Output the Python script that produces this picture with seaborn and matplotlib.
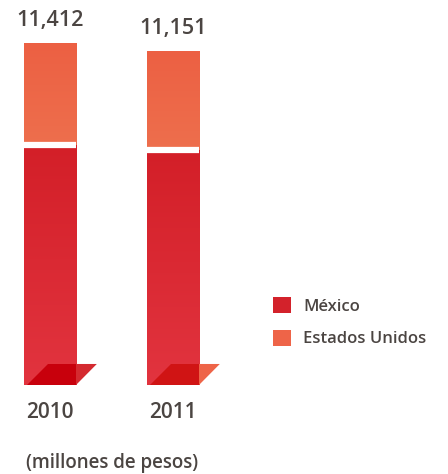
import numpy as np
import pandas as pd
import seaborn as sns
import matplotlib.pyplot as plt
from matplotlib.patches import Polygon, Patch
from matplotlib.colors import LinearSegmentedColormap

# Data (millones de pesos)
years = ['2010', '2011']
mexico = [8010, 7830]
usa = [3402, 3321]
totals = [11412, 11151]
total_labels = ['11,412', '11,151']
series_names = ['México', 'Estados Unidos']

red = '#d3222b'
orange = '#ee6448'
text_col = '#4b4542'

sns.set_theme(style='white')
plt.rcParams['font.family'] = ['Open Sans', 'DejaVu Sans']

fig = plt.figure(figsize=(4.48, 4.74), dpi=100)
ax = fig.add_axes([0, 89 / 474, 1, 385 / 474])

df = pd.DataFrame({'year': years, 'total': totals, 'mexico': mexico, 'usa': usa})
bar_w = 0.423
sns.barplot(data=df, x='year', y='total', color=orange, width=bar_w,
            saturation=1, ax=ax)
sns.barplot(data=df, x='year', y='mexico', color=red, width=bar_w,
            saturation=1, ax=ax)

xlim = (-0.4065, 3.236)
ylim = (0, 12847)

# vertical gradients on the bars
cm_orange = LinearSegmentedColormap.from_list('o', ['#f39264', '#ec6043'])
cm_red = LinearSegmentedColormap.from_list('r', ['#e2343f', '#d31f28'])
grad = np.linspace(0, 1, 256).reshape(-1, 1)
patches = list(ax.patches)
for i, p in enumerate(patches):
    cmap = cm_orange if i < len(years) else cm_red
    x0, y0, w, h = p.get_x(), p.get_y(), p.get_width(), p.get_height()
    im = ax.imshow(grad, cmap=cmap, aspect='auto', origin='lower',
                   extent=[x0, x0 + w, y0, y0 + h], zorder=p.get_zorder())
    im.set_clip_path(p)

# white gap between segments
red_bars = patches[len(years):]
for p in red_bars:
    lc = ax.hlines(p.get_height(), p.get_x(), p.get_x() + p.get_width(),
                   color='white', lw=4.5, zorder=5)
    lc.set_capstyle('butt')

# 3D-looking base
depth = 0.0546 * ylim[1]
outer_cols = ['#d42a30', '#ee6448']
inner_cols = ['#c8000c', '#d01414']
for i, p in enumerate(red_bars):
    x0, w = p.get_x(), p.get_width()
    ax.add_patch(Polygon([(x0 + 0.06 * w, 0), (x0 + w, 0), (x0 + w, depth),
                          (x0 + 0.46 * w, depth)], closed=True,
                         facecolor=inner_cols[i], lw=0, zorder=6))
    ax.add_patch(Polygon([(x0 + w, 0), (x0 + 1.4 * w, depth), (x0 + w, depth)],
                         closed=True, facecolor=outer_cols[i], lw=0, zorder=6))

# labels
for i, p in enumerate(patches[:len(years)]):
    xc = p.get_x() + p.get_width() / 2
    ax.annotate(total_labels[i], (xc, p.get_height()), xytext=(0, 16),
                textcoords='offset points', ha='center', va='center',
                fontsize=15.5, fontweight='semibold', color=text_col)
    ax.annotate(years[i], (xc, 0), xytext=(0, -20), textcoords='offset points',
                ha='center', va='center', fontsize=15, fontweight='semibold',
                color=text_col, annotation_clip=False)

ax.set_xlim(*xlim)
ax.set_ylim(*ylim)
ax.axis('off')

fig.text(112 / 448, 1 - 463 / 474, '(millones de pesos)', ha='center',
         va='center', fontsize=13.5, fontweight='semibold', color=text_col)

handles = [Patch(facecolor=red, edgecolor='none'),
           Patch(facecolor=orange, edgecolor='none')]
leg = fig.legend(handles, series_names, loc='upper left',
                 bbox_to_anchor=(273 / 448, 1 - 297 / 474),
                 bbox_transform=fig.transFigure, frameon=False,
                 handlelength=1.1, handleheight=1.1, handletextpad=0.7,
                 labelspacing=0.9, borderpad=0, borderaxespad=0,
                 prop={'size': 12, 'weight': 'semibold'})
for t in leg.get_texts():
    t.set_color(text_col)

fig.savefig('out.png', dpi=100)
